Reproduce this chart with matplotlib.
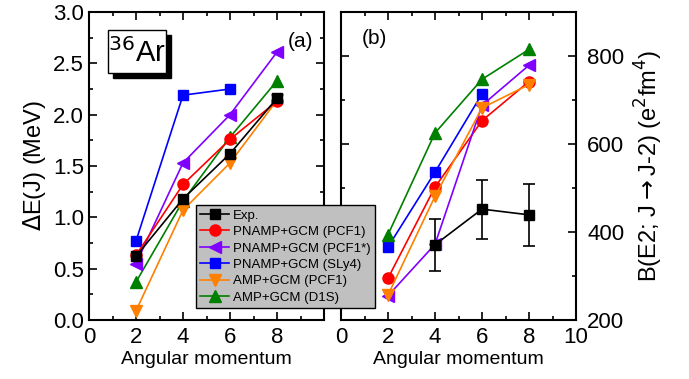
import matplotlib
matplotlib.use("Agg")
import matplotlib.pyplot as plt
from matplotlib.ticker import MultipleLocator
from matplotlib.patches import Rectangle
import numpy as np

plt.rcParams['font.family'] = ['Liberation Sans', 'DejaVu Sans']

J = [2, 4, 6, 8]
J3 = [2, 4, 6]
J_exp_b = [4, 6, 8]

# Panel (a): Delta E(J) in MeV
dE_exp = [0.62, 1.18, 1.62, 2.16]
dE_pcf1 = [0.63, 1.32, 1.76, 2.13]
dE_pcf1s = [0.55, 1.53, 2.00, 2.61]
dE_sly4 = [0.77, 2.19, 2.25]
dE_amp_pcf1 = [0.09, 1.07, 1.53, 2.14]
dE_d1s = [0.37, 1.16, 1.78, 2.33]

# Panel (b): B(E2) in e^2 fm^4
be2_exp = [371, 452, 439]
be2_exp_err = [59, 67, 71]
be2_pcf1 = [295, 502, 653, 742]
be2_pcf1s = [255, 372, 688, 779]
be2_sly4 = [366, 536, 714]
be2_amp_pcf1 = [257, 481, 682, 735]
be2_d1s = [394, 625, 747, 815]

labels = ["Exp.", "PNAMP+GCM (PCF1)", "PNAMP+GCM (PCF1*)", "PNAMP+GCM (SLy4)",
          "AMP+GCM (PCF1)", "AMP+GCM (D1S)"]
colors = ["black", "#ff0000", "#8000ff", "#0000ff", "#ff8000", "#008000"]
markers = ["s", "o", "<", "s", "v", "^"]
msizes = [7, 8, 8.5, 7, 8.5, 8.5]

W, H = 689, 379
fig = plt.figure(figsize=(6.89, 3.79), dpi=100)
ax1 = fig.add_axes([89/W, 1-320/H, (324-89)/W, (320-12)/H])
ax2 = fig.add_axes([341/W, 1-320/H, (576-341)/W, (320-12)/H])

lw = 1.2
handles = []
seriesA = [(J, dE_exp), (J, dE_pcf1), (J, dE_pcf1s), (J3, dE_sly4), (J, dE_amp_pcf1), (J, dE_d1s)]
for i, (x, y) in enumerate(seriesA):
    h, = ax1.plot(x, y, color=colors[i], marker=markers[i], ms=msizes[i], lw=lw,
                  label=labels[i], zorder=3 + (6 - i) * 0.1)
    handles.append(h)

seriesB = [(J_exp_b, be2_exp), (J, be2_pcf1), (J, be2_pcf1s), (J3, be2_sly4), (J, be2_amp_pcf1), (J, be2_d1s)]
for i, (x, y) in enumerate(seriesB):
    if i == 0:
        ax2.errorbar(x, y, yerr=be2_exp_err, color='black', marker='s', ms=7, lw=lw,
                     capsize=4, elinewidth=1.2, capthick=1.2, zorder=3)
    else:
        ax2.plot(x, y, color=colors[i], marker=markers[i], ms=msizes[i], lw=lw, zorder=3)

for ax in (ax1, ax2):
    ax.set_xlim(0, 10)
    ax.xaxis.set_major_locator(MultipleLocator(2))
    ax.xaxis.set_minor_locator(MultipleLocator(1))
    ax.tick_params(which='both', direction='in', top=True, bottom=True, left=True, right=True,
                   width=1.2, labelsize=16)
    ax.tick_params(which='major', length=6)
    ax.tick_params(which='minor', length=3)
    ax.tick_params(axis='x', pad=5)
    for s in ax.spines.values():
        s.set_linewidth(1.5)
    ax.set_xlabel("Angular momentum", fontsize=14, labelpad=2)

ax1.set_ylim(0, 3.0)
ax1.yaxis.set_major_locator(MultipleLocator(0.5))
ax1.yaxis.set_minor_locator(MultipleLocator(0.25))
ax1.yaxis.set_major_formatter(matplotlib.ticker.FormatStrFormatter('%.1f'))
ax1.set_ylabel(r"$\Delta$E(J) (MeV)", fontsize=17, labelpad=4)
ax1.set_xticks([0, 2, 4, 6, 8])

ax2.set_ylim(200, 900)
ax2.yaxis.set_major_locator(MultipleLocator(200))
ax2.yaxis.set_minor_locator(MultipleLocator(100))
ax2.tick_params(axis='y', labelleft=False, labelright=True, pad=8)
ax2.yaxis.set_label_position('right')
ax2.set_ylabel(r"B(E2; J$\rightarrow$J-2) (e$^2$fm$^4$)", fontsize=17, labelpad=6)

ax1.text(0.955, 0.935, "(a)", transform=ax1.transAxes, ha='right', va='top', fontsize=15)
ax2.text(0.09, 0.945, "(b)", transform=ax2.transAxes, ha='left', va='top', fontsize=15)

# 36Ar label in a box with a black drop shadow
bx0, by0, bx1, by1 = 108, 30, 166, 73
sh = 5
fig.patches.append(Rectangle(((bx0 + sh)/W, 1-(by1 + sh)/H), (bx1-bx0)/W, (by1-by0)/H,
                             transform=fig.transFigure, facecolor='black', edgecolor='black',
                             lw=1.0, zorder=5))
fig.patches.append(Rectangle((bx0/W, 1-by1/H), (bx1-bx0)/W, (by1-by0)/H,
                             transform=fig.transFigure, facecolor='white', edgecolor='black',
                             lw=1.0, zorder=6))
fig.text((bx0+bx1)/2/W, 1-(by0+by1)/2/H - 0.004, r"$^{36}$Ar", ha='center', va='center',
         fontsize=21, zorder=7)

leg = fig.legend(handles=handles, labels=labels, loc='upper left',
                 bbox_to_anchor=(196/W, 1-205/H), fontsize=9.5, frameon=True,
                 fancybox=False, facecolor='#c0c0c0', edgecolor='black', framealpha=1,
                 handlelength=2.2, handletextpad=0.3, labelspacing=0.32, borderpad=0.33,
                 borderaxespad=0, shadow=False)
leg.get_frame().set_linewidth(1.0)

fig.savefig("out.png", dpi=100)
